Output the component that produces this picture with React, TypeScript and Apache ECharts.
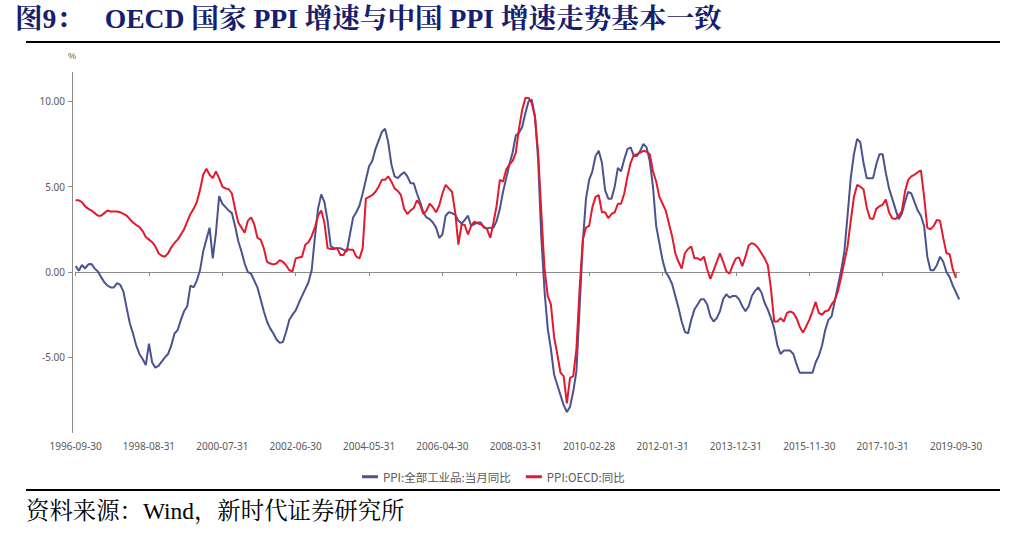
import React, { useEffect, useRef } from 'react';
import * as echarts from 'echarts';

// ---- data ----
const startYear = 1996;
const startMonth = 9; // 1996-09
const monthCount = 278; // through 2019-10
const labelStep = 23; // one label every 23 months

function pad(n: number) {
  return n < 10 ? '0' + n : '' + n;
}
function buildCategories(): string[] {
  const out: string[] = [];
  for (let k = 0; k < monthCount; k++) {
    const m0 = startMonth - 1 + k;
    const y = startYear + Math.floor(m0 / 12);
    const m = (m0 % 12) + 1;
    const d = new Date(Date.UTC(y, m, 0)).getUTCDate();
    out.push(`${y}-${pad(m)}-${pad(d)}`);
  }
  return out;
}
const categories = buildCategories();

// PPI:全部工业品:当月同比 (1996-09 .. 2019-10)
const chinaPPI = [
  0.35, 0.08, 0.41, 0.21, 0.45, 0.47, 0.2, 0.03, -0.3, -0.6,
  -0.8, -0.9, -0.9, -0.65, -0.75, -1.15, -2.1, -3.0, -3.6, -4.3,
  -4.8, -5.1, -5.45, -4.2, -5.3, -5.6, -5.5, -5.25, -5.0, -4.8,
  -4.3, -3.6, -3.4, -2.8, -2.3, -2.0, -0.8, -0.9, -0.5, 0.1,
  1.2, 1.9, 2.6, 0.8, 2.3, 4.45, 4.0, 3.8, 3.6, 3.45,
  2.7, 1.8, 1.2, 0.5, 0.0, -0.1, -0.5, -0.9, -1.6, -2.3,
  -2.9, -3.3, -3.6, -3.95, -4.15, -4.1, -3.5, -2.8, -2.5, -2.25,
  -1.8, -1.4, -1.0, -0.6, 0.1, 2.0, 3.7, 4.55, 4.1, 3.0,
  1.5, 1.4, 1.4, 1.4, 1.3, 1.2, 2.2, 3.2, 3.5, 3.9,
  4.6, 5.4, 6.2, 6.5, 7.2, 7.7, 8.2, 8.4, 7.6, 6.3,
  5.6, 5.5, 5.7, 5.85, 5.6, 5.2, 5.2, 4.6, 4.1, 3.5,
  3.2, 3.1, 2.9, 2.6, 2.0, 2.2, 3.3, 3.5, 3.45, 3.35,
  3.0, 2.85, 3.05, 3.3, 2.7, 2.8, 2.9, 2.9, 2.6, 2.55,
  2.6, 2.6, 3.0, 3.7, 4.7, 5.5, 6.3, 7.0, 8.0, 8.15,
  8.5, 9.3, 10.0, 10.1, 9.1, 6.6, 2.0, -1.1, -3.3, -4.5,
  -6.0, -6.6, -7.2, -7.8, -8.2, -7.9, -7.0, -5.8, -2.1, 1.7,
  4.3, 5.4, 5.9, 6.8, 7.1, 6.4, 4.8, 4.3, 4.3, 5.0,
  6.1, 5.9, 6.6, 7.2, 7.3, 6.8, 6.8, 7.1, 7.5, 7.3,
  6.5, 5.0, 2.7, 1.7, 0.7, 0.0, -0.3, -0.7, -1.4, -2.1,
  -2.9, -3.5, -3.6, -2.8, -2.2, -1.9, -1.6, -1.6, -1.9, -2.6,
  -2.9, -2.7, -2.3, -1.6, -1.3, -1.5, -1.4, -1.4, -1.6, -2.0,
  -2.3, -2.0, -1.4, -1.1, -0.9, -1.2, -1.8, -2.2, -2.7, -3.3,
  -4.3, -4.8, -4.6, -4.6, -4.6, -4.8, -5.4, -5.9, -5.9, -5.9,
  -5.9, -5.9, -5.3, -4.9, -4.3, -3.4, -2.8, -2.6, -1.7, -0.8,
  0.1, 1.2, 3.3, 5.5, 6.9, 7.8, 7.6, 6.4, 5.5, 5.5,
  5.5, 6.3, 6.9, 6.9, 5.8, 4.9, 4.3, 3.7, 3.1, 3.4,
  4.1, 4.7, 4.6, 4.1, 3.6, 3.3, 2.7, 0.9, 0.1, 0.1,
  0.4, 0.9, 0.6, 0.0, -0.3, -0.8, -1.2, -1.6,
];

// PPI:OECD:同比 (1996-09 .. 2019-09)
const oecdPPI: (number | null)[] = [
  4.2, 4.2, 4.1, 3.85, 3.7, 3.6, 3.45, 3.3, 3.3, 3.45,
  3.6, 3.55, 3.55, 3.55, 3.5, 3.4, 3.3, 3.1, 2.9, 2.75,
  2.65, 2.4, 2.05, 1.9, 1.75, 1.5, 1.1, 0.95, 0.9, 1.1,
  1.45, 1.7, 1.9, 2.2, 2.5, 2.95, 3.4, 3.7, 4.1, 4.8,
  5.7, 6.05, 5.7, 5.5, 5.9, 5.5, 5.0, 4.9, 4.85, 4.6,
  3.7, 2.9, 2.6, 2.3, 3.0, 3.2, 2.8, 2.0, 1.9, 1.4,
  0.6, 0.5, 0.45, 0.5, 0.7, 0.6, 0.4, 0.1, 0.05, 0.8,
  0.85, 0.9, 1.6, 1.75, 2.1, 2.6, 3.3, 3.6, 2.9, 1.4,
  1.35, 1.35, 1.4, 1.0, 1.0, 1.35, 1.3, 1.3, 0.9, 0.8,
  1.4, 4.3, 4.4, 4.5, 4.7, 5.0, 5.4, 5.4, 5.6, 5.3,
  4.9, 4.75, 4.5, 3.7, 3.4, 3.6, 3.75, 4.2, 3.95, 3.4,
  3.6, 4.0, 3.8, 3.5, 3.9, 4.6, 5.1, 4.9, 4.7, 3.5,
  1.6, 2.8, 2.75, 2.2, 2.7, 2.95, 2.85, 2.8, 2.66, 2.5,
  2.0, 2.9, 3.9, 5.4, 5.3, 6.0, 6.3, 6.5, 7.0, 8.4,
  9.5, 10.2, 10.2, 9.9, 9.1, 7.0, 3.5, 0.2, -1.4, -1.9,
  -3.8, -4.8, -5.9, -6.1, -7.7, -6.2, -6.1, -4.5, -1.0, 1.9,
  2.6, 2.7, 3.8, 4.4, 4.5, 3.5, 3.5, 3.15, 3.4, 3.5,
  4.0, 4.0, 4.6, 5.6, 6.4, 6.85, 6.9, 7.0, 7.1, 7.05,
  6.9, 5.9, 5.3, 4.4, 4.0, 3.6, 2.85, 2.1, 1.1, 0.6,
  0.2, 1.1, 1.35, 1.5, 0.8, 0.8, 0.7, 0.9, 0.15, -0.4,
  0.1, 0.6, 1.1, 0.6, 0.05, -0.1, 0.4, 0.8, 0.85, 0.35,
  0.9, 1.55, 1.7, 1.6, 1.4, 1.1, 0.8, 0.4, -1.0, -2.9,
  -2.9, -2.7, -2.9, -2.4, -2.3, -2.4, -2.7, -3.2, -3.55, -3.2,
  -2.8, -2.3, -1.75, -2.4, -2.5, -2.3, -2.25, -1.9, -1.65, -1.1,
  -0.3, 0.6, 1.5, 3.0, 4.4, 5.1, 5.0, 4.85, 3.8, 3.15,
  3.1, 3.7, 3.85, 3.95, 4.25, 3.5, 3.15, 3.1, 3.3, 3.55,
  4.7, 5.4, 5.6, 5.7, 5.85, 5.95, 4.4, 2.6, 2.5, 2.7,
  3.05, 3.0, 2.0, 1.1, 1.05, 0.15, -0.35, null,
];

const yTicks = [-5, 0, 5, 10];
const seriesNames = ['PPI:全部工业品:当月同比', 'PPI:OECD:同比'];
const titleText = '图9：   OECD 国家 PPI 增速与中国 PPI 增速走势基本一致';
const sourceText = '资料来源：Wind，新时代证券研究所';

const BLUE = '#4a5290';
const RED = '#e31a2c';
const AXIS = '#8c8c8c';
const LABEL = '#595959';

const everyStep = (index: number) => index % labelStep === 0;

export default function App() {
  const ref = useRef<HTMLDivElement>(null);
  useEffect(() => {
    const chart = echarts.init(ref.current as HTMLDivElement, null, { renderer: 'svg' });
    chart.setOption({
      animation: false,
      backgroundColor: '#ffffff',
      grid: { left: 75.6, top: 72.3, width: 883.6, height: 360.2 },
      xAxis: [
        {
          type: 'category',
          data: categories,
          boundaryGap: false,
          position: 'bottom',
          axisLine: { show: true, onZero: true, lineStyle: { color: AXIS, width: 1 } },
          axisTick: { show: true, interval: everyStep, length: 4, lineStyle: { color: AXIS } },
          axisLabel: { show: false },
          splitLine: { show: false },
        },
        {
          type: 'category',
          data: categories,
          boundaryGap: false,
          position: 'bottom',
          axisLine: { show: false, onZero: false },
          axisTick: { show: false },
          axisLabel: {
            interval: everyStep,
            color: LABEL,
            fontSize: 10,
            margin: 8,
            fontFamily: 'Noto Sans, sans-serif',
          },
          splitLine: { show: false },
        },
      ],
      yAxis: {
        type: 'value',
        min: -9.4,
        max: 11.7,
        offset: 3.6,
        name: '%',
        nameLocation: 'end',
        nameGap: 12,
        nameTextStyle: { color: LABEL, fontSize: 9, align: 'center' },
        axisLine: { show: true, lineStyle: { color: AXIS, width: 1 } },
        axisTick: { show: true, length: 4, customValues: yTicks, lineStyle: { color: AXIS } },
        axisLabel: {
          customValues: yTicks,
          formatter: (v: number) => v.toFixed(2),
          color: LABEL,
          fontSize: 10,
          margin: 7,
          fontFamily: 'Noto Sans, sans-serif',
        },
        splitLine: { show: false },
      },
      legend: {
        top: 466,
        left: 357,
        icon: 'rect',
        itemWidth: 16,
        itemHeight: 3,
        itemGap: 15,
        textStyle: { color: LABEL, fontSize: 11.5, fontFamily: 'Noto Sans CJK SC, sans-serif' },
        data: seriesNames,
      },
      series: [
        {
          name: seriesNames[0],
          type: 'line',
          xAxisIndex: 0,
          data: chinaPPI,
          showSymbol: false,
          symbol: 'none',
          lineStyle: { color: BLUE, width: 2 },
          itemStyle: { color: BLUE },
        },
        {
          name: seriesNames[1],
          type: 'line',
          xAxisIndex: 0,
          data: oecdPPI,
          showSymbol: false,
          symbol: 'none',
          lineStyle: { color: RED, width: 2 },
          itemStyle: { color: RED },
        },
      ],
      graphic: [
        {
          type: 'text',
          left: 15,
          top: 5,
          style: {
            text: titleText,
            fill: '#14206e',
            font: "bold 27.6px 'Liberation Serif', 'Noto Serif CJK SC', 'Noto Sans CJK SC', serif",
          },
        },
        { type: 'rect', shape: { x: 26, y: 41, width: 974, height: 2 }, style: { fill: '#000' } },
        { type: 'rect', shape: { x: 26, y: 489, width: 974, height: 2 }, style: { fill: '#000' } },
        {
          type: 'text',
          left: 26,
          top: 499,
          style: {
            text: sourceText,
            fill: '#000',
            font: "23.4px 'Liberation Serif', 'Noto Serif CJK SC', 'Noto Sans CJK SC', serif",
          },
        },
      ],
    });
    return () => chart.dispose();
  }, []);
  return (
    <div
      ref={ref}
      style={{ position: 'fixed', left: 0, top: 0, width: 1013, height: 535, background: '#fff' }}
    />
  );
}
